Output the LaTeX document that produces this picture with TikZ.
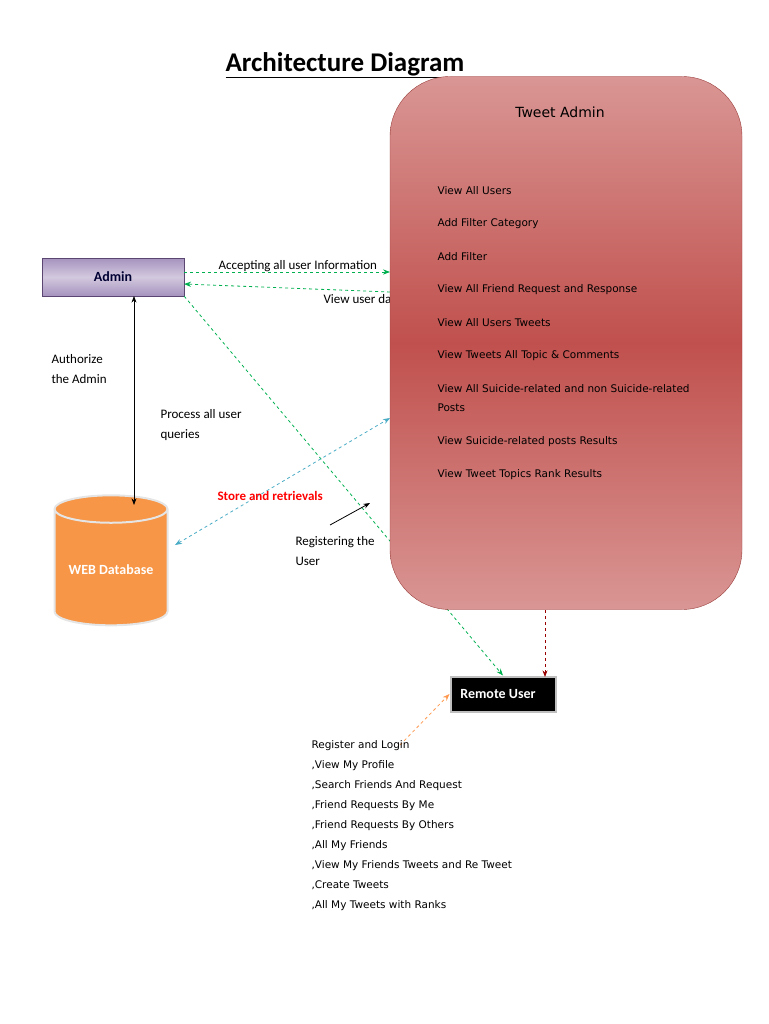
\documentclass[tikz,border=0pt]{standalone}
\usepackage{fontspec}
\setmainfont{Carlito}
\newfontfamily\listfont{DejaVu Sans}
\usetikzlibrary{arrows.meta,shapes.geometric,positioning,calc}
\definecolor{tweetred}{RGB}{192,80,77}
\definecolor{tweetlight}{RGB}{217,150,148}
\definecolor{adminpurple}{RGB}{128,100,162}
\definecolor{dborange}{RGB}{247,150,70}
\definecolor{dbtop}{RGB}{250,192,144}
\definecolor{linkgreen}{RGB}{0,176,80}
\definecolor{linkblue}{RGB}{75,172,198}
\definecolor{linkorange}{RGB}{255,153,80}
\begin{document}
\begin{tikzpicture}[x=1pt,y=-1pt,
    label/.style={anchor=west, align=left, font=\fontsize{13}{20}\selectfont},
    item/.style={anchor=west, font=\listfont\fontsize{10.5}{19}\selectfont, align=left},
    green link/.style={draw=linkgreen, dashed, thick, -{Stealth[length=7pt]}},
    >=Stealth
]
    \useasboundingbox (0,0) rectangle (768,1024);

    % Title
    \node[font=\fontsize{27}{30}\selectfont\bfseries] (title) at (345,65) {\underline{Architecture Diagram}};

    % Admin
    \node[draw=adminpurple!70!black, top color=adminpurple!70, bottom color=adminpurple!70, middle color=adminpurple!35,
          minimum width=142pt, minimum height=38pt, font=\fontsize{14}{16}\selectfont\bfseries,
          text=black!80!blue] (admin) at (113,277) {Admin};

    % Database
    \node[cylinder, shape border rotate=90, aspect=0.3, draw=white!90!black, line width=2pt,
          fill=dborange, cylinder uses custom fill, cylinder body fill=dborange, cylinder end fill=dbtop,
          minimum width=113pt, minimum height=130pt,
          text=white, font=\fontsize{14}{16}\selectfont\bfseries] (db) at (111,570) {WEB Database};

    % Remote user
    \node[draw=black!25, line width=2pt, fill=black, text=white, minimum width=105pt, minimum height=35pt,
          font=\fontsize{14}{16}\selectfont\bfseries, inner sep=0pt] (remote) at (503,694) {\hspace*{-10pt}Remote User};

    % free ends
    \coordinate (boxin) at (390,272);
    \coordinate (boxout) at (390,292);
    \coordinate (admout) at (184,284);
    \coordinate (admtop) at (134,296);
    \coordinate (dbtopc) at (134,505);
    \coordinate (dbside) at (175,545);
    \coordinate (boxq) at (390,418);
    \coordinate (boxbot) at (545,610);
    \coordinate (remtop) at (545,677);
    \coordinate (listtop) at (400,745);
    \coordinate (regfrom) at (330,525);
    \coordinate (regto) at (370,503);

    % Connectors
    \draw[<->, thick] (admtop) -- (dbtopc);
    \draw[green link] (admin.east |- boxin) -- (boxin);
    \draw[green link] (boxout) -- (admout);
    \draw[green link] (admin.south east) -- (remote.north);
    \draw[draw=linkblue, dashed, thick, {Stealth[length=7pt]}-{Stealth[length=7pt]}] (dbside) -- (boxq);
    \draw[draw=linkorange, dashed, thick, -{Stealth[length=7pt]}] (listtop) -- (remote.west);
    \draw[->, thick] (regfrom) -- (regto);

    % Labels
    \node[label] (accept) at (215,266) {Accepting all user Information};
    \node[label] (viewud) at (320,299) {View user data};
    \node[label] (auth) at (48,369) {Authorize\\the Admin};
    \node[label] (proc) at (157,425) {Process all user\\queries};
    \node[label, text=red, font=\fontsize{13}{16}\selectfont\bfseries] (store) at (214,496) {Store and retrievals};
    \node[label] (reg) at (292,551) {Registering the\\User};

    % Tweet Admin
    \node[draw=tweetred!80!black, rounded corners=60pt, minimum width=352pt, minimum height=533pt,
          top color=tweetlight, bottom color=tweetlight, middle color=tweetred] (tweet) at (566,343) {};
    \draw[red!60!black, dashed, thick, ->] (boxbot) -- (remtop);
    \node[font=\listfont\fontsize{14}{16}\selectfont] (tweettitle) at (560,112) {Tweet Admin};
    \node[item] (t1) at (434,191) {View All Users};
    \node[item] (t2) at (434,224) {Add Filter Category};
    \node[item] (t3) at (434,257) {Add Filter};
    \node[item] (t4) at (434,290) {View All Friend Request and Response};
    \node[item] (t5) at (434,323) {View All Users Tweets};
    \node[item] (t6) at (434,356) {View Tweets All Topic \& Comments};
    \node[item] (t7) at (434,398) {View All Suicide-related and non Suicide-related\\Posts};
    \node[item] (t8) at (434,442) {View Suicide-related posts Results};
    \node[item] (t9) at (434,475) {View Tweet Topics Rank Results};

    % Remote user list
    \node[item, anchor=north west, font=\listfont\fontsize{10.5}{20}\selectfont] (rlist) at (308,737)
      {Register and Login\\,View My Profile\\,Search Friends And Request\\,Friend Requests By Me\\,Friend Requests By Others\\,All My Friends\\,View My Friends Tweets and Re Tweet\\,Create Tweets\\,All My Tweets with Ranks};
\end{tikzpicture}
\end{document}
